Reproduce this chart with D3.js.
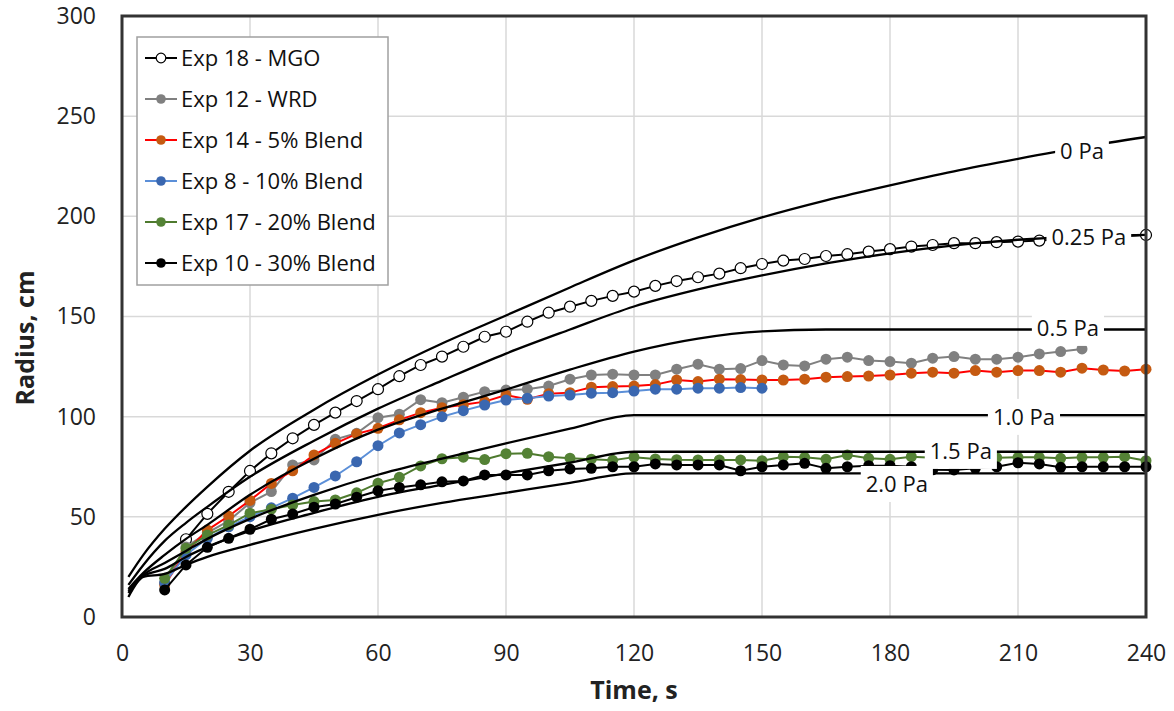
<!DOCTYPE html>
<html>
<head>
<meta charset="utf-8">
<script src="https://cdn.jsdelivr.net/npm/d3@7"></script>
<style>
  body { margin: 0; background: #fff; }
  svg { font-family: "Open Sans", sans-serif; }
</style>
</head>
<body>
<svg id="graf" width="1174" height="711"></svg>
<script>
// casy mereni (s)
var tExp = [10, 15, 20, 25, 30, 35, 40, 45, 50, 55, 60, 65, 70, 75, 80, 85, 90, 95, 100, 105,
  110, 115, 120, 125, 130, 135, 140, 145, 150, 155, 160, 165, 170, 175, 180, 185, 190, 195, 200,
  205, 210, 215, 220, 225, 230, 235, 240]

// namerene polomery (cm)
var exp18 = [null, 38.8, 51.5, 62.5, 72.9, 81.7, 89.2, 95.9, 102, 107.8, 113.7, 120.2, 125.8, 130, 134.9,
  139.9, 142.4, 147.4, 151.9, 154.9, 157.8, 160.3, 162.4, 165.3, 167.7, 169.6, 171.4, 174.1, 176.2,
  177.9, 178.7, 180.2, 181.1, 182.4, 183.6, 184.9, 185.7, 186.6, 186.6, 187.1, 187.4, 187.9, 188.5,
  189, 189.5, 190, 190.7]
var exp12 = [17, 35, 42, 48, 57, 62.6, 75.9, 78.4, 88.7, 91.7, 99.5, 101.2, 108.5, 107, 109.7, 112.5,
  113.3, 113.7, 115.3, 118.7, 120.8, 121.2, 120.8, 120.8, 123.7, 126.2, 123.7, 124, 128, 125.8, 125.3,
  128.7, 129.7, 128, 127.5, 126.7, 129.2, 130, 128.7, 128.7, 129.7, 131.3, 132.5, 133.8, null, null, null]
var exp14 = [16, 32.6, 43.4, 50.4, 58.2, 66.7, 73, 80.9, 86.7, 91.4, 94.2, 98.4, 102, 104.5, 106, 107.5,
  110.8, 108.7, 111.5, 112, 114.7, 115, 115.3, 116, 118.3, 117.5, 118.7, 118.5, 118.3, 118.3, 118.7,
  119.7, 120, 120.3, 120.8, 121.7, 122.2, 121.7, 123, 122.2, 123, 123, 122.2, 124.2, 123.3, 122.8, 123.7]
var exp8 = [17, 31, 39.3, 45, 50.1, 54.5, 59.3, 64.7, 70.4, 77.5, 85.5, 91.9, 96, 100, 103, 105.8,
  108.3, 109.2, 110.3, 110.8, 111.7, 112, 112.8, 113.7, 113.7, 114.2, 114.2, 114.5, 114.2,
  null, null, null, null, null, null, null, null, null, null, null, null, null, null, null, null, null, null, null]
var exp17 = [19.3, 34.3, 40.9, 45.9, 51.8, 53.8, 55.9, 57.6, 58.4, 62, 66.8, 69.7, 75.4, 79, 79.8, 78.6,
  81.5, 81.7, 80, 79.3, 78.8, 78.2, 79.8, 78.9, 78.5, 78.4, 78.4, 78.4, 78, 80, 79.7, 78.7, 80.9, 79.2,
  78.7, 80, 79.5, 79.5, 79.2, 79.5, 79.7, 79.7, 79.2, 79.7, 79.7, 80, 78]
var exp10 = [13.5, 26, 34.8, 39.3, 43.8, 48.8, 51.4, 54.8, 56.4, 59.8, 63, 64.7, 66, 67.5, 67.9, 70.9,
  70.9, 70.9, 73, 73.9, 74.2, 75, 75, 76.4, 75.9, 75.9, 75.9, 73, 75, 75.9, 76.7, 74.2, 75, 75.5, 75.5,
  75, 73.5, 73.4, 74.2, 75, 77, 76.4, 74.7, 75, 75, 75, 75]

var nazvy = ["Exp 18 - MGO", "Exp 12 - WRD", "Exp 14 - 5% Blend", "Exp 8 - 10% Blend", "Exp 17 - 20% Blend", "Exp 10 - 30% Blend"]

// modelove krivky
var tModel = [1.5, 5, 10, 15, 20, 30, 45, 60, 75, 90, 105, 120, 135, 150, 165, 180, 195, 210, 225, 240]
var pa0 = [20, 31, 44, 55, 65, 83, 103.5, 121, 136.5, 150.5, 164.5, 178, 189.5, 199.5, 208, 215.5, 222.5, 228.7, 234.5, 239.6]
var pa025 = [16, 26, 38, 47, 55, 70, 88, 104, 118, 131.5, 143.5, 155, 163.5, 170.5, 176.5, 181.5, 185.5, 188.3, 190, 190.7]
var pa05 = [14, 22, 31, 39, 46, 61, 79, 93.5, 104, 113.5, 123.5, 132.5, 139, 142.6, 143.5, 143.5, 143.5, 143.5, 143.5, 143.5]
var pa10 = [13, 21, 27, 33, 39, 49, 61, 71, 79, 86.7, 94, 100.8, 100.8, 100.8, 100.8, 100.8, 100.8, 100.8, 100.8, 100.8]
var pa15 = [12, 20.5, 24, 30, 35, 43, 52, 60, 66, 71.7, 77, 82.5, 82.5, 82.5, 82.5, 82.5, 82.5, 82.5, 82.5, 82.5]
var pa20 = [10, 20, 21.5, 26, 30, 36, 44, 51, 57, 62, 67, 71.7, 71.7, 71.7, 71.7, 71.7, 71.7, 71.7, 71.7, 71.7]

var popisky = ["0 Pa", "0.25 Pa", "0.5 Pa", "1.0 Pa", "1.5 Pa", "2.0 Pa"]
var popiskyT = [225, 226.6, 221.7, 211.4, 196.6, 181.6]
var popiskyR = [232.6, 189.7, 144.3, 99.9, 82.9, 66.4]

var xTicks = [0, 30, 60, 90, 120, 150, 180, 210, 240]
var yTicks = [0, 50, 100, 150, 200, 250, 300]

var Svg = d3.select("#graf")
var x = d3.scaleLinear().domain([0, 240]).range([122, 1146])
var y = d3.scaleLinear().domain([0, 300]).range([617, 16])

// mrizka
Svg.append("g").selectAll("line").data(yTicks.slice(1, -1)).enter().append("line")
  .attr("x1", x(0)).attr("x2", x(240))
  .attr("y1", d => y(d)).attr("y2", d => y(d))
  .style("stroke", "#d9d9d9").style("stroke-width", 1.5)
Svg.append("g").selectAll("line").data(xTicks.slice(1, -1)).enter().append("line")
  .attr("y1", y(0)).attr("y2", y(300))
  .attr("x1", d => x(d)).attr("x2", d => x(d))
  .style("stroke", "#d9d9d9").style("stroke-width", 1.5)

// osy
Svg.append("g").attr("transform", "translate(" + x(0) + ",0)")
  .call(d3.axisLeft(y).tickValues(yTicks).tickSize(0).tickPadding(26))
Svg.append("g").attr("transform", "translate(0," + y(0) + ")")
  .call(d3.axisBottom(x).tickValues(xTicks).tickSize(0).tickPadding(28))
Svg.selectAll(".domain").remove()
Svg.selectAll(".tick text").style("font-size", "23px").style("font-family", "Open Sans").style("fill", "#222")

Svg.append("text").attr("x", 634).attr("y", 699).attr("text-anchor", "middle")
  .style("font-size", "25px").style("font-weight", "bold").style("fill", "#222").text("Time, s")
Svg.append("text").attr("transform", "translate(34,338) rotate(-90)").attr("text-anchor", "middle")
  .style("font-size", "25px").style("font-weight", "bold").style("fill", "#222").text("Radius, cm")

// serie
var styly = [
  { data: exp18, line: "#000", fill: "#fff", stroke: "#000" },
  { data: exp12, line: "#808080", fill: "#808080", stroke: "none" },
  { data: exp14, line: "#ff0000", fill: "#c55a11", stroke: "none" },
  { data: exp8, line: "#5b8fd8", fill: "#3a67b0", stroke: "none" },
  { data: exp17, line: "#4e7a2e", fill: "#548235", stroke: "none" },
  { data: exp10, line: "#000", fill: "#000", stroke: "none" }
]
var cara = d3.line().defined(d => d[1] != null).x(d => x(d[0])).y(d => y(d[1]))

styly.forEach(function (s) {
  var body = tExp.map((t, i) => [t, s.data[i]])
  Svg.append("path").datum(body).attr("d", cara)
    .style("fill", "none").style("stroke", s.line).style("stroke-width", 2)
  Svg.append("g").selectAll("circle").data(body.filter(d => d[1] != null)).enter().append("circle")
    .attr("cx", d => x(d[0])).attr("cy", d => y(d[1])).attr("r", 5.5)
    .style("fill", s.fill).style("stroke", s.stroke).style("stroke-width", 1.2)
})

// modely
var krivka = d3.line().curve(d3.curveMonotoneX).x(d => x(d[0])).y(d => y(d[1]))
;[pa0, pa025, pa05, pa10, pa15, pa20].forEach(function (m) {
  Svg.append("path").datum(tModel.map((t, i) => [t, m[i]])).attr("d", krivka)
    .style("fill", "none").style("stroke", "#000").style("stroke-width", 2.3)
})

// popisky krivek
popisky.forEach(function (p, i) {
  var g = Svg.append("g")
  var r = g.append("rect").style("fill", "#fff")
  var t = g.append("text").attr("x", x(popiskyT[i])).attr("y", y(popiskyR[i]))
    .attr("text-anchor", "middle").attr("dy", "0.36em")
    .style("font-size", "22px").style("fill", "#111").text(p)
  var b = t.node().getBBox()
  r.attr("x", b.x - 5).attr("width", b.width + 10)
    .attr("y", y(popiskyR[i]) - 18).attr("height", 36)
})

// ramecek
Svg.append("rect").attr("x", x(0)).attr("y", y(300)).attr("width", x(240) - x(0)).attr("height", y(0) - y(300))
  .style("fill", "none").style("stroke", "#333").style("stroke-width", 3)

// legenda
Svg.append("rect").attr("x", 137).attr("y", 37).attr("width", 251).attr("height", 248)
  .style("fill", "#fff").style("stroke", "#a0a0a0").style("stroke-width", 1.5)
var leg = Svg.selectAll("legenda").data(nazvy).enter().append("g")
  .attr("transform", (d, i) => "translate(0," + (58 + i * 41) + ")")
leg.append("line").attr("x1", 145).attr("x2", 177)
  .style("stroke", (d, i) => styly[i].line).style("stroke-width", 2)
leg.append("circle").attr("cx", 161).attr("r", 4.8)
  .style("fill", (d, i) => styly[i].fill).style("stroke", (d, i) => styly[i].stroke).style("stroke-width", 1.2)
leg.append("text").attr("x", 181).attr("dy", "0.36em")
  .style("font-size", "22px").style("fill", "#111").text(d => d)
</script>
</body>
</html>
